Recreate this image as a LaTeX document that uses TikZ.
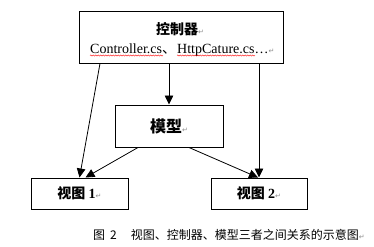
\documentclass[tikz,border=0pt]{standalone}
\usepackage{fontspec}
\setmainfont{Liberation Serif}
\newfontfamily\cjk{Noto Sans CJK SC}
\newfontfamily\symfont{DejaVu Sans}
\usetikzlibrary{arrows.meta,decorations.pathmorphing}
\newcommand{\pmark}{{\symfont\mdseries\color{black!45}\fontsize{7}{7}\selectfont ↵}}

\begin{document}
\begin{tikzpicture}[x=1pt,y=-1pt,
  box/.style={draw,line width=1pt,inner sep=0pt},
  cjkb/.style={font=\cjk\bfseries\fontsize{14}{16}\selectfont},
  fname/.style={font=\fontsize{14}{16}\selectfont,inner sep=0pt,anchor=base west},
  flow/.style={-{Triangle[length=9pt,width=8.5pt]},line width=0.8pt},
  wavy/.style={draw=red,line width=0.4pt,decorate,
    decoration={snake,amplitude=0.6pt,segment length=2.5pt}}]
\useasboundingbox (0,0) rectangle (374,246);
\node[box,minimum width=204pt,minimum height=51pt] (ctrl) at (181,37.5) {};
\node[cjkb] (ctrltitle) at (180,29) {控制器\pmark};
\node[fname] (file1) at (90,53) {Controller.cs{\cjk 、}};
\node[fname] (file2) at (177,53) {HttpCature.cs…\pmark};
\draw[wavy] ([yshift=-2.5pt]file1.base west) -- ++(73,0);
\draw[wavy] ([yshift=-2.5pt]file2.base west) -- ++(78,0);
\node[box,minimum width=108pt,minimum height=42pt,
  font=\cjk\bfseries\fontsize{16}{18}\selectfont] (model) at (169,126)
  {模型\pmark\hspace{14pt}};
\node[box,cjkb,minimum width=97pt,minimum height=31pt] (view1) at (79.5,193.5)
  {视图~{\rmfamily\bfseries 1}\pmark};
\node[box,cjkb,minimum width=96pt,minimum height=31pt] (view2) at (259,193.5)
  {视图~{\rmfamily\bfseries 2}\pmark};
\node[font=\cjk\fontsize{12}{14}\selectfont,anchor=west,inner sep=0pt] (caption)
  at (93,235) {图\hspace{5pt}2\hspace{14pt}视图、控制器、模型三者之间关系的示意图\pmark};
\draw[flow] ([xshift=-81pt]ctrl.south) -- (view1.north);
\draw[flow] (ctrl.south -| model.north) -- (model.north);
\draw[flow] (ctrl.south -| view2.north) -- (view2.north);
\draw[flow] ([xshift=-31pt]model.south) -- ([xshift=6pt]view1.north);
\draw[flow] ([xshift=20pt]model.south) -- ([xshift=-1pt]view2.north);
\end{tikzpicture}
\end{document}
